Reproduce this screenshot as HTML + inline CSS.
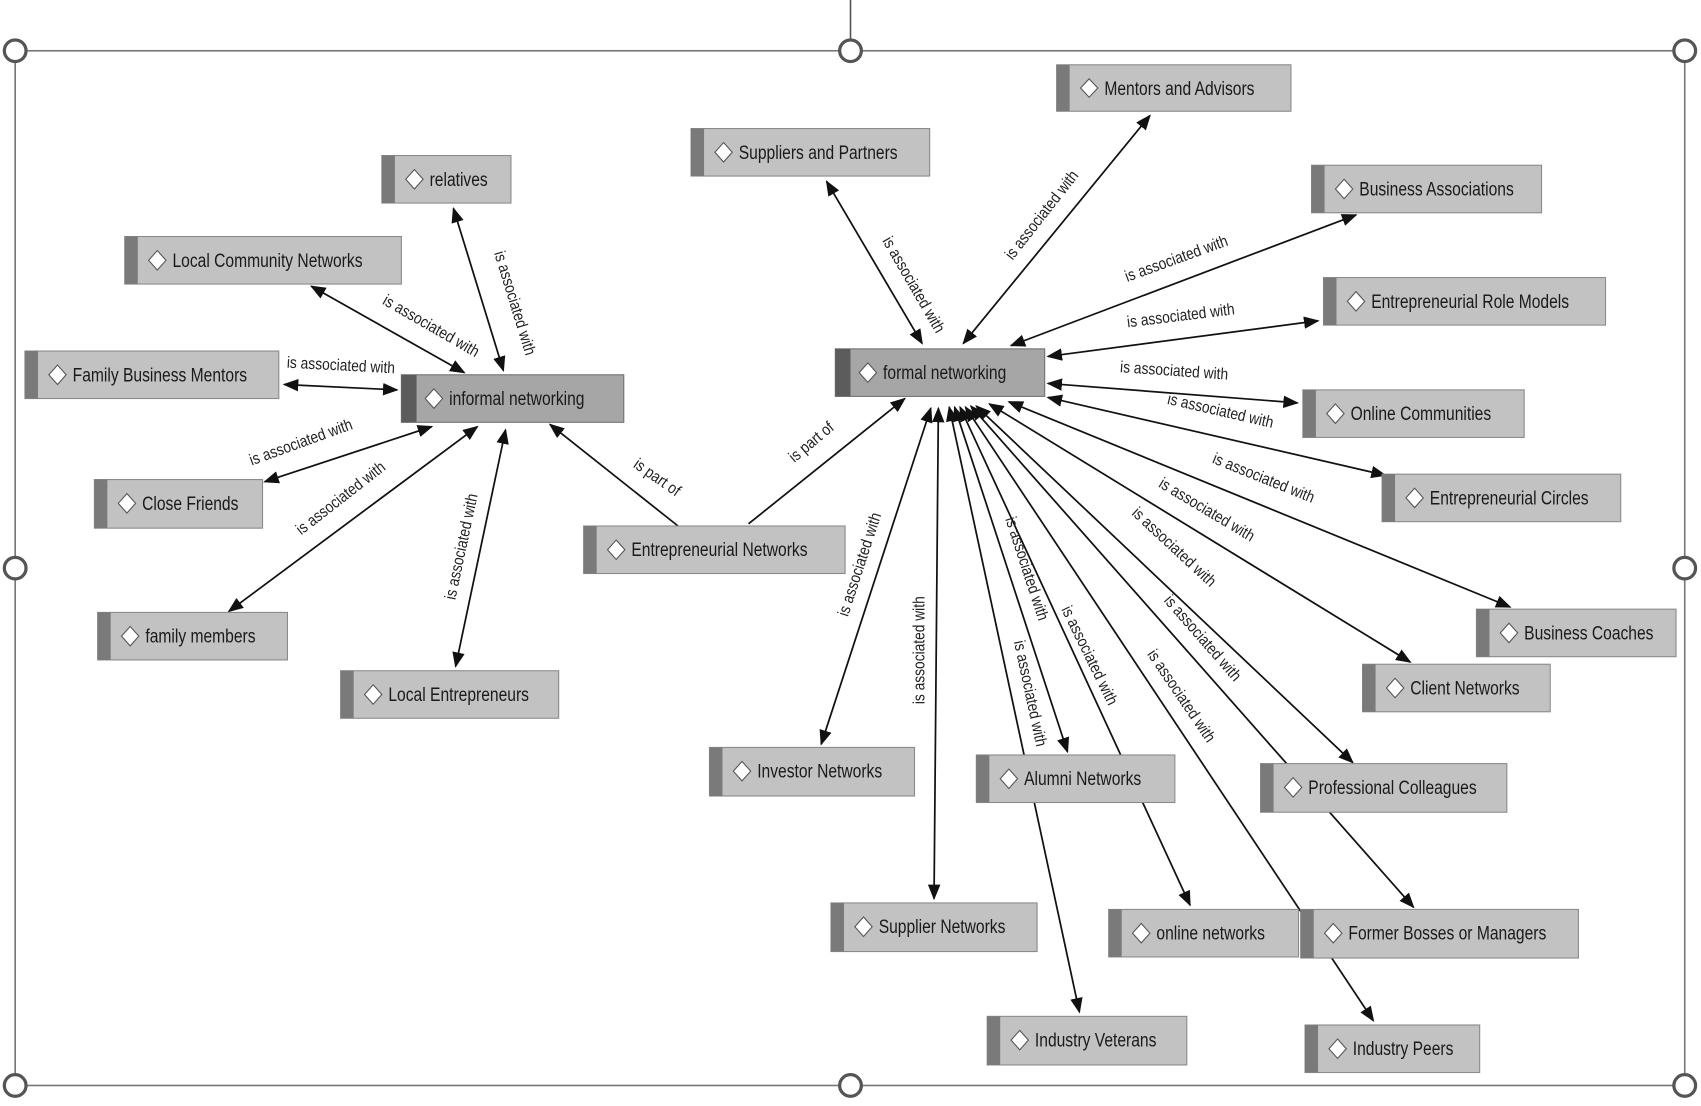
<!DOCTYPE html>
<html><head><meta charset="utf-8"><style>
html,body{margin:0;padding:0;background:#fff;}
svg{display:block}
text{font-family:"Liberation Sans Narrow","Liberation Sans",sans-serif;}
.n{font-size:18px;fill:#1a1a1a}
.l{font-size:15px;fill:#222}
</style></head><body>
<svg width="1701" height="1106" viewBox="0 0 1568 1024" preserveAspectRatio="none" xmlns="http://www.w3.org/2000/svg">
<defs>
<marker id="a" viewBox="0 0 10 10" refX="9" refY="5" markerWidth="9" markerHeight="9" orient="auto-start-reverse"><path d="M0,1 L10,5 L0,9 z" fill="#111"/></marker>
</defs>
<line x1="784" y1="0" x2="784" y2="47" stroke="#555" stroke-width="1.5"/>
<rect x="14" y="47" width="1539" height="958" fill="none" stroke="#777" stroke-width="1.5"/>
<g fill="#fff" stroke="#555" stroke-width="3">
<circle cx="14" cy="47" r="10"/><circle cx="784" cy="47" r="10"/><circle cx="1553" cy="47" r="10"/>
<circle cx="14" cy="526" r="10"/><circle cx="1553" cy="526" r="10"/>
<circle cx="14" cy="1005" r="10"/><circle cx="784" cy="1005" r="10"/><circle cx="1553" cy="1005" r="10"/>
</g>
<g stroke="#111" stroke-width="1.6" fill="none">
<line x1="418" y1="193" x2="464" y2="343" marker-start="url(#a)" marker-end="url(#a)"/>
<line x1="287" y1="265" x2="428" y2="345" marker-start="url(#a)" marker-end="url(#a)"/>
<line x1="262" y1="356" x2="366" y2="361" marker-start="url(#a)" marker-end="url(#a)"/>
<line x1="244" y1="446" x2="398" y2="395" marker-start="url(#a)" marker-end="url(#a)"/>
<line x1="211" y1="566" x2="440" y2="395" marker-start="url(#a)" marker-end="url(#a)"/>
<line x1="420" y1="617" x2="466" y2="398" marker-start="url(#a)" marker-end="url(#a)"/>
<line x1="625" y1="487" x2="507" y2="393" marker-end="url(#a)"/>
<line x1="690" y1="485" x2="834" y2="369" marker-end="url(#a)"/>
<line x1="762" y1="168" x2="850" y2="318" marker-start="url(#a)" marker-end="url(#a)"/>
<line x1="1060" y1="107" x2="888" y2="318" marker-start="url(#a)" marker-end="url(#a)"/>
<line x1="1250" y1="199" x2="932" y2="320" marker-start="url(#a)" marker-end="url(#a)"/>
<line x1="1215" y1="297" x2="966" y2="330" marker-start="url(#a)" marker-end="url(#a)"/>
<line x1="966" y1="355" x2="1196" y2="373" marker-start="url(#a)" marker-end="url(#a)"/>
<line x1="966" y1="368" x2="1277" y2="440" marker-start="url(#a)" marker-end="url(#a)"/>
<line x1="930" y1="372" x2="1392" y2="562" marker-start="url(#a)" marker-end="url(#a)"/>
<line x1="912" y1="374" x2="1300" y2="613" marker-start="url(#a)" marker-end="url(#a)"/>
<line x1="900" y1="376" x2="1247" y2="706" marker-start="url(#a)" marker-end="url(#a)"/>
<line x1="895" y1="376" x2="1303" y2="840" marker-start="url(#a)" marker-end="url(#a)"/>
<line x1="890" y1="377" x2="1266" y2="945" marker-start="url(#a)" marker-end="url(#a)"/>
<line x1="885" y1="377" x2="1097" y2="838" marker-start="url(#a)" marker-end="url(#a)"/>
<line x1="880" y1="377" x2="984" y2="696" marker-start="url(#a)" marker-end="url(#a)"/>
<line x1="875" y1="377" x2="995" y2="937" marker-start="url(#a)" marker-end="url(#a)"/>
<line x1="865" y1="378" x2="861" y2="832" marker-start="url(#a)" marker-end="url(#a)"/>
<line x1="858" y1="378" x2="757" y2="689" marker-start="url(#a)" marker-end="url(#a)"/>
</g>
<g class="l" text-anchor="middle">
<text transform="translate(470,282) rotate(73) scale(0.85,1)">is associated with</text>
<text transform="translate(395,306) rotate(30) scale(0.85,1)">is associated with</text>
<text transform="translate(314,343) rotate(3) scale(0.85,1)">is associated with</text>
<text transform="translate(279,414) rotate(-20) scale(0.85,1)">is associated with</text>
<text transform="translate(317,465) rotate(-38) scale(0.85,1)">is associated with</text>
<text transform="translate(430,507) rotate(-78) scale(0.85,1)">is associated with</text>
<text transform="translate(603,446) rotate(35) scale(0.85,1)">is part of</text>
<text transform="translate(751,413) rotate(-40) scale(0.85,1)">is part of</text>
<text transform="translate(838,266) rotate(60) scale(0.85,1)">is associated with</text>
<text transform="translate(964,202) rotate(-52) scale(0.85,1)">is associated with</text>
<text transform="translate(1086,244) rotate(-20) scale(0.85,1)">is associated with</text>
<text transform="translate(1089,297) rotate(-7) scale(0.85,1)">is associated with</text>
<text transform="translate(1082,348) rotate(4) scale(0.85,1)">is associated with</text>
<text transform="translate(1124,385) rotate(13) scale(0.85,1)">is associated with</text>
<text transform="translate(1163,447) rotate(22) scale(0.85,1)">is associated with</text>
<text transform="translate(1110,476) rotate(31) scale(0.85,1)">is associated with</text>
<text transform="translate(1079,510) rotate(43) scale(0.85,1)">is associated with</text>
<text transform="translate(1105,594) rotate(49) scale(0.85,1)">is associated with</text>
<text transform="translate(1085,647) rotate(56) scale(0.85,1)">is associated with</text>
<text transform="translate(1000,609) rotate(64) scale(0.85,1)">is associated with</text>
<text transform="translate(942,528) rotate(72) scale(0.85,1)">is associated with</text>
<text transform="translate(945,643) rotate(78) scale(0.85,1)">is associated with</text>
<text transform="translate(852,602) rotate(-90) scale(0.85,1)">is associated with</text>
<text transform="translate(797,524) rotate(-72) scale(0.85,1)">is associated with</text>
</g>
<g>
<g transform="translate(974,60)"><rect width="216" height="43" fill="#c2c2c2" stroke="#8a8a8a"/><rect width="12" height="43" fill="#7a7a7a"/><path d="M30,13 L38,21.5 L30,30 L22,21.5 Z" fill="#fff" stroke="#555"/><text class="n" transform="translate(44,28) scale(0.8,1)">Mentors and Advisors</text></g>
<g transform="translate(637,119)"><rect width="220" height="44" fill="#c2c2c2" stroke="#8a8a8a"/><rect width="12" height="44" fill="#7a7a7a"/><path d="M30,13 L38,22 L30,31 L22,22 Z" fill="#fff" stroke="#555"/><text class="n" transform="translate(44,28) scale(0.8,1)">Suppliers and Partners</text></g>
<g transform="translate(352,144)"><rect width="119" height="44" fill="#c2c2c2" stroke="#8a8a8a"/><rect width="12" height="44" fill="#7a7a7a"/><path d="M30,13 L38,22 L30,31 L22,22 Z" fill="#fff" stroke="#555"/><text class="n" transform="translate(44,28) scale(0.8,1)">relatives</text></g>
<g transform="translate(115,219)"><rect width="255" height="44" fill="#c2c2c2" stroke="#8a8a8a"/><rect width="12" height="44" fill="#7a7a7a"/><path d="M30,13 L38,22 L30,31 L22,22 Z" fill="#fff" stroke="#555"/><text class="n" transform="translate(44,28) scale(0.8,1)">Local Community Networks</text></g>
<g transform="translate(1209,153)"><rect width="212" height="44" fill="#c2c2c2" stroke="#8a8a8a"/><rect width="12" height="44" fill="#7a7a7a"/><path d="M30,13 L38,22 L30,31 L22,22 Z" fill="#fff" stroke="#555"/><text class="n" transform="translate(44,28) scale(0.8,1)">Business Associations</text></g>
<g transform="translate(1220,257)"><rect width="260" height="44" fill="#c2c2c2" stroke="#8a8a8a"/><rect width="12" height="44" fill="#7a7a7a"/><path d="M30,13 L38,22 L30,31 L22,22 Z" fill="#fff" stroke="#555"/><text class="n" transform="translate(44,28) scale(0.8,1)">Entrepreneurial Role Models</text></g>
<g transform="translate(23,325)"><rect width="234" height="44" fill="#c2c2c2" stroke="#8a8a8a"/><rect width="12" height="44" fill="#7a7a7a"/><path d="M30,13 L38,22 L30,31 L22,22 Z" fill="#fff" stroke="#555"/><text class="n" transform="translate(44,28) scale(0.8,1)">Family Business Mentors</text></g>
<g transform="translate(370,347)"><rect width="205" height="44" fill="#a6a6a6" stroke="#707070"/><rect width="14" height="44" fill="#5c5c5c"/><path d="M30,13 L38,22 L30,31 L22,22 Z" fill="#fff" stroke="#555"/><text class="n" transform="translate(44,28) scale(0.8,1)">informal networking</text></g>
<g transform="translate(770,323)"><rect width="193" height="44" fill="#a6a6a6" stroke="#707070"/><rect width="14" height="44" fill="#5c5c5c"/><path d="M30,13 L38,22 L30,31 L22,22 Z" fill="#fff" stroke="#555"/><text class="n" transform="translate(44,28) scale(0.8,1)">formal networking</text></g>
<g transform="translate(1201,361)"><rect width="204" height="44" fill="#c2c2c2" stroke="#8a8a8a"/><rect width="12" height="44" fill="#7a7a7a"/><path d="M30,13 L38,22 L30,31 L22,22 Z" fill="#fff" stroke="#555"/><text class="n" transform="translate(44,28) scale(0.8,1)">Online Communities</text></g>
<g transform="translate(87,444)"><rect width="155" height="45" fill="#c2c2c2" stroke="#8a8a8a"/><rect width="12" height="45" fill="#7a7a7a"/><path d="M30,13 L38,22 L30,31 L22,22 Z" fill="#fff" stroke="#555"/><text class="n" transform="translate(44,28) scale(0.8,1)">Close Friends</text></g>
<g transform="translate(1274,439)"><rect width="220" height="44" fill="#c2c2c2" stroke="#8a8a8a"/><rect width="12" height="44" fill="#7a7a7a"/><path d="M30,13 L38,22 L30,31 L22,22 Z" fill="#fff" stroke="#555"/><text class="n" transform="translate(44,28) scale(0.8,1)">Entrepreneurial Circles</text></g>
<g transform="translate(538,487)"><rect width="241" height="44" fill="#c2c2c2" stroke="#8a8a8a"/><rect width="12" height="44" fill="#7a7a7a"/><path d="M30,13 L38,22 L30,31 L22,22 Z" fill="#fff" stroke="#555"/><text class="n" transform="translate(44,28) scale(0.8,1)">Entrepreneurial Networks</text></g>
<g transform="translate(90,567)"><rect width="175" height="44" fill="#c2c2c2" stroke="#8a8a8a"/><rect width="12" height="44" fill="#7a7a7a"/><path d="M30,13 L38,22 L30,31 L22,22 Z" fill="#fff" stroke="#555"/><text class="n" transform="translate(44,28) scale(0.8,1)">family members</text></g>
<g transform="translate(1361,564)"><rect width="184" height="44" fill="#c2c2c2" stroke="#8a8a8a"/><rect width="12" height="44" fill="#7a7a7a"/><path d="M30,13 L38,22 L30,31 L22,22 Z" fill="#fff" stroke="#555"/><text class="n" transform="translate(44,28) scale(0.8,1)">Business Coaches</text></g>
<g transform="translate(1256,615)"><rect width="173" height="44" fill="#c2c2c2" stroke="#8a8a8a"/><rect width="12" height="44" fill="#7a7a7a"/><path d="M30,13 L38,22 L30,31 L22,22 Z" fill="#fff" stroke="#555"/><text class="n" transform="translate(44,28) scale(0.8,1)">Client Networks</text></g>
<g transform="translate(314,621)"><rect width="201" height="44" fill="#c2c2c2" stroke="#8a8a8a"/><rect width="12" height="44" fill="#7a7a7a"/><path d="M30,13 L38,22 L30,31 L22,22 Z" fill="#fff" stroke="#555"/><text class="n" transform="translate(44,28) scale(0.8,1)">Local Entrepreneurs</text></g>
<g transform="translate(654,692)"><rect width="189" height="45" fill="#c2c2c2" stroke="#8a8a8a"/><rect width="12" height="45" fill="#7a7a7a"/><path d="M30,13 L38,22 L30,31 L22,22 Z" fill="#fff" stroke="#555"/><text class="n" transform="translate(44,28) scale(0.8,1)">Investor Networks</text></g>
<g transform="translate(900,699)"><rect width="183" height="44" fill="#c2c2c2" stroke="#8a8a8a"/><rect width="12" height="44" fill="#7a7a7a"/><path d="M30,13 L38,22 L30,31 L22,22 Z" fill="#fff" stroke="#555"/><text class="n" transform="translate(44,28) scale(0.8,1)">Alumni Networks</text></g>
<g transform="translate(1162,707)"><rect width="227" height="45" fill="#c2c2c2" stroke="#8a8a8a"/><rect width="12" height="45" fill="#7a7a7a"/><path d="M30,13 L38,22 L30,31 L22,22 Z" fill="#fff" stroke="#555"/><text class="n" transform="translate(44,28) scale(0.8,1)">Professional Colleagues</text></g>
<g transform="translate(766,836)"><rect width="190" height="45" fill="#c2c2c2" stroke="#8a8a8a"/><rect width="12" height="45" fill="#7a7a7a"/><path d="M30,13 L38,22 L30,31 L22,22 Z" fill="#fff" stroke="#555"/><text class="n" transform="translate(44,28) scale(0.8,1)">Supplier Networks</text></g>
<g transform="translate(1022,842)"><rect width="175" height="44" fill="#c2c2c2" stroke="#8a8a8a"/><rect width="12" height="44" fill="#7a7a7a"/><path d="M30,13 L38,22 L30,31 L22,22 Z" fill="#fff" stroke="#555"/><text class="n" transform="translate(44,28) scale(0.8,1)">online networks</text></g>
<g transform="translate(1199,842)"><rect width="256" height="45" fill="#c2c2c2" stroke="#8a8a8a"/><rect width="12" height="45" fill="#7a7a7a"/><path d="M30,13 L38,22 L30,31 L22,22 Z" fill="#fff" stroke="#555"/><text class="n" transform="translate(44,28) scale(0.8,1)">Former Bosses or Managers</text></g>
<g transform="translate(910,941)"><rect width="184" height="45" fill="#c2c2c2" stroke="#8a8a8a"/><rect width="12" height="45" fill="#7a7a7a"/><path d="M30,13 L38,22 L30,31 L22,22 Z" fill="#fff" stroke="#555"/><text class="n" transform="translate(44,28) scale(0.8,1)">Industry Veterans</text></g>
<g transform="translate(1203,949)"><rect width="161" height="44" fill="#c2c2c2" stroke="#8a8a8a"/><rect width="12" height="44" fill="#7a7a7a"/><path d="M30,13 L38,22 L30,31 L22,22 Z" fill="#fff" stroke="#555"/><text class="n" transform="translate(44,28) scale(0.8,1)">Industry Peers</text></g>
</g>
</svg>
</body></html>
